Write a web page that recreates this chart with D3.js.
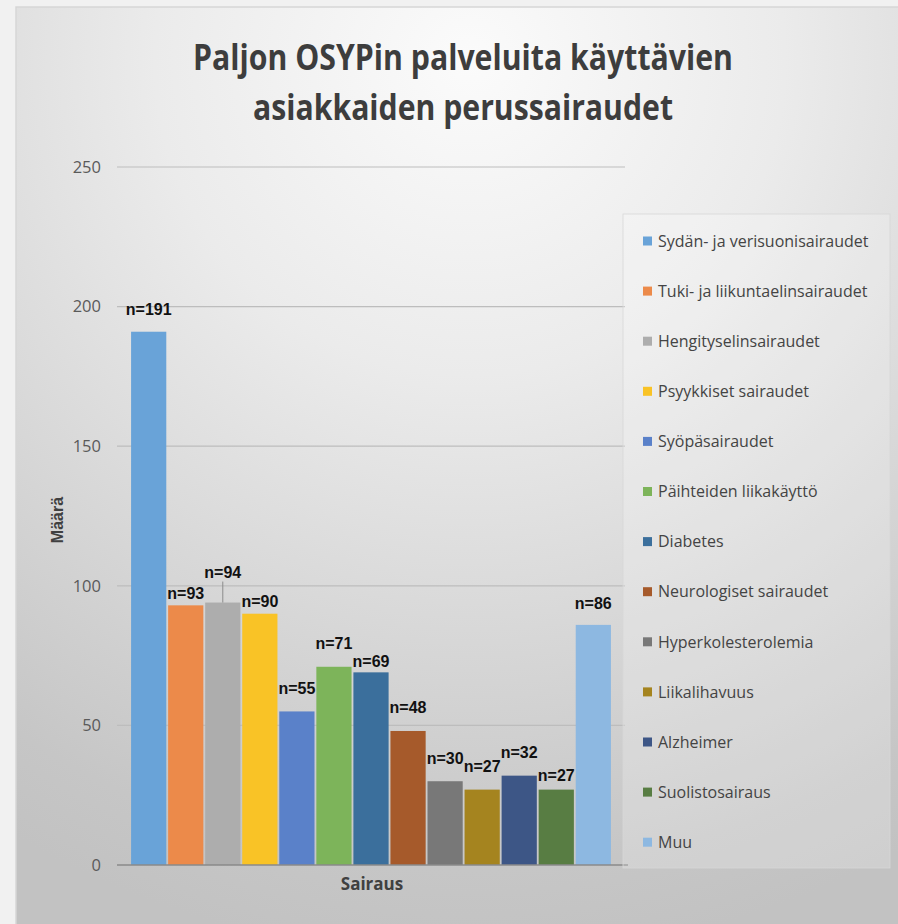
<!DOCTYPE html>
<html>
<head>
<meta charset="utf-8">
<script src="https://cdn.jsdelivr.net/npm/d3@7"></script>
<style>
html,body{margin:0;padding:0;background:#f1f1f1;}
svg{display:block;}
</style>
</head>
<body>
<svg id="chart" width="898" height="924"></svg>
<script>
// ---- data ----
const categories = [
  "Sydän- ja verisuonisairaudet",
  "Tuki- ja liikuntaelinsairaudet",
  "Hengityselinsairaudet",
  "Psyykkiset sairaudet",
  "Syöpäsairaudet",
  "Päihteiden liikakäyttö",
  "Diabetes",
  "Neurologiset sairaudet",
  "Hyperkolesterolemia",
  "Liikalihavuus",
  "Alzheimer",
  "Suolistosairaus",
  "Muu"
];
const values = [191, 93, 94, 90, 55, 71, 69, 48, 30, 27, 32, 27, 86];
const colors = ["#69a3d8","#ec8a4a","#adadad","#f9c326","#5a81c9","#7db45a","#3b6f9c","#a65a2b","#787878","#a5841f","#3d5686","#587d43","#8db8e1"];
const yTicks = [0, 50, 100, 150, 200, 250];
const titleLines = ["Paljon OSYPin palveluita käyttävien", "asiakkaiden perussairaudet"];
const yTitle = "Määrä";
const xTitle = "Sairaus";
// label lift above bar top (layout only)
const labelLift = [23, 12, 31, 13, 23, 24, 11, 24, 23, 24, 24, 15, 22];

const svg = d3.select("#chart");
const defs = svg.append("defs");
const rg = defs.append("radialGradient").attr("id","bg")
  .attr("gradientUnits","userSpaceOnUse")
  .attr("cx",470).attr("cy",60).attr("r",900).attr("fx",470).attr("fy",60);
rg.append("stop").attr("offset","0").attr("stop-color","#fbfbfb");
rg.append("stop").attr("offset","0.35").attr("stop-color","#ebebeb");
rg.append("stop").attr("offset","0.9").attr("stop-color","#c6c6c6");
rg.append("stop").attr("offset","1").attr("stop-color","#c2c2c2");

svg.append("rect").attr("x",0).attr("y",0).attr("width",898).attr("height",924).attr("fill","#f1f1f1");
svg.append("rect").attr("x",16).attr("y",7).attr("width",890).attr("height",930)
  .attr("fill","url(#bg)").attr("stroke","#d6d6d6").attr("stroke-width",1.5);

// title
const tt = svg.append("g").attr("font-family","'Liberation Sans Narrow','Open Sans',sans-serif")
  .attr("font-weight","bold").attr("fill","#3d3d3d").attr("font-size",36);
tt.append("text").attr("x",463).attr("y",70).attr("text-anchor","middle")
  .attr("textLength",540).attr("lengthAdjust","spacingAndGlyphs").text(titleLines[0]);
tt.append("text").attr("x",463).attr("y",120).attr("text-anchor","middle")
  .attr("textLength",420).attr("lengthAdjust","spacingAndGlyphs").text(titleLines[1]);

// scales
const x = d3.scaleBand().domain(categories).range([117, 625]).paddingInner(0.05).paddingOuter(0.38);
const y = d3.scaleLinear().domain([0, 250]).range([865, 167]);

// gridlines
svg.append("g").selectAll("line").data(yTicks.filter(d => d > 0)).join("line")
  .attr("x1",117).attr("x2",625).attr("y1",d=>y(d)).attr("y2",d=>y(d))
  .attr("stroke","#bdbdbd").attr("stroke-width",1.2);

// y axis labels
const yAxis = d3.axisLeft(y).tickValues(yTicks).tickSize(0).tickPadding(0);
const ya = svg.append("g").attr("transform","translate(101,0)").call(yAxis);
ya.select(".domain").remove();
ya.selectAll("text").attr("font-family","'Open Sans','Liberation Sans',sans-serif")
  .attr("font-size",16.5).attr("fill","#5a5a5a");

// bars
svg.append("g").selectAll("rect").data(values).join("rect")
  .attr("x",(d,i)=>x(categories[i])).attr("width",x.bandwidth())
  .attr("y",d=>y(d)).attr("height",d=>y(0)-y(d))
  .attr("fill",(d,i)=>colors[i]);

// baseline
svg.append("line").attr("x1",117).attr("x2",628).attr("y1",y(0)).attr("y2",y(0))
  .attr("stroke","#8a8a8a").attr("stroke-width",1.5);

// leader line for n=94
svg.append("line").attr("x1",x(categories[2])+x.bandwidth()/2).attr("x2",x(categories[2])+x.bandwidth()/2)
  .attr("y1",y(values[2])-labelLift[2]+10).attr("y2",y(values[2])).attr("stroke","#8c8c8c").attr("stroke-width",1);

// bar labels
svg.append("g").selectAll("text").data(values).join("text")
  .attr("x",(d,i)=>x(categories[i])+x.bandwidth()/2)
  .attr("y",(d,i)=>y(d)-labelLift[i]+6)
  .attr("text-anchor","middle")
  .attr("font-family","'Liberation Sans','Open Sans',sans-serif")
  .attr("font-weight","bold").attr("font-size",16).attr("fill","#111")
  .text(d=>"n="+d);

// axis titles
svg.append("text").attr("transform","translate(63,520) rotate(-90)").attr("text-anchor","middle")
  .attr("font-family","'Liberation Sans','Open Sans',sans-serif").attr("font-weight","bold")
  .attr("font-size",16).attr("fill","#404040").text(yTitle);
svg.append("text").attr("x",372).attr("y",890).attr("text-anchor","middle")
  .attr("font-family","'Liberation Sans Narrow','Open Sans',sans-serif").attr("font-weight","bold")
  .attr("font-size",17).attr("fill","#404040").text(xTitle);

// legend
svg.append("rect").attr("x",623).attr("y",214).attr("width",267).attr("height",654)
  .attr("fill","#ffffff").attr("fill-opacity",0.22).attr("stroke","#d8d8d8").attr("stroke-width",0.8);
const lg = svg.append("g").selectAll("g").data(categories).join("g")
  .attr("transform",(d,i)=>`translate(643,${241 + i*50.1})`);
lg.append("rect").attr("x",0).attr("y",-4.5).attr("width",9).attr("height",9).attr("fill",(d,i)=>colors[i]);
lg.append("text").attr("x",15).attr("y",0).attr("dy","0.36em")
  .attr("font-family","'Open Sans','Liberation Sans',sans-serif").attr("font-size",16)
  .attr("fill","#444").text(d=>d);
</script>
</body>
</html>
